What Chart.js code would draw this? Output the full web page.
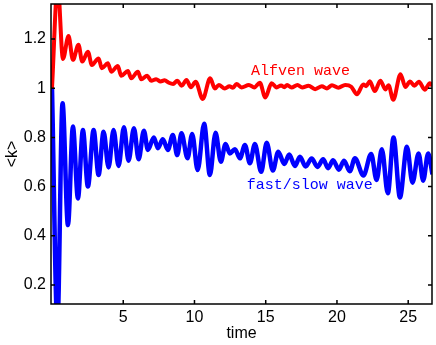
<!DOCTYPE html>
<html>
<head>
<meta charset="utf-8">
<script src="https://cdn.jsdelivr.net/npm/chart.js@4"></script>
<style>
    html, body { margin: 0; padding: 0; background: #fff; }
</style>
</head>
<body>
<canvas id="grafico" width="436" height="345"></canvas>
<script>
// onda de Alfven (vermelho)
const alfvenT = [0, 0.4, 0.77, 1.16, 1.47, 1.86, 2.12, 2.52, 2.8, 3.27, 3.5, 3.92, 4.16, 4.62, 4.86, 5.33, 5.56, 6.03, 6.26, 6.68,
    6.96, 7.31, 7.62, 7.9, 8.2, 8.5, 8.79, 9.1, 9.44, 9.75, 10.08, 10.58, 11.1, 11.43, 11.71, 12.13, 12.45, 12.7, 12.95, 13.3,
    13.82, 14.2, 14.59, 14.97, 15.41, 15.76, 16.08, 16.3, 16.5, 16.81, 17.23, 17.56, 18.0, 18.47, 18.94, 19.3, 19.65, 20.1, 20.58, 21.0,
    21.4, 21.85, 22.05, 22.3, 22.65, 23.05, 23.4, 23.62, 23.95, 24.46, 24.8, 25.13, 25.43, 25.75, 26.16, 26.52, 26.7];
const alfvenK = [1.0, 1.42, 1.119, 1.212, 1.115, 1.176, 1.108, 1.148, 1.094, 1.121, 1.081, 1.101, 1.067, 1.09, 1.05, 1.07, 1.04, 1.067, 1.036, 1.05,
    1.03, 1.036, 1.027, 1.032, 1.022, 1.017, 1.03, 1.01, 1.033, 1.004, 1.026, 0.956, 1.04, 0.999, 1.013, 0.999, 1.008, 1.002, 1.017, 1.003,
    1.013, 1.003, 1.022, 0.962, 1.02, 1.003, 1.011, 1.004, 1.013, 1.003, 1.013, 1.003, 1.01, 0.996, 1.008, 0.999, 1.012, 1.002, 1.013, 1.006,
    0.975, 1.015, 1.008, 1.028, 0.988, 1.03, 0.995, 1.012, 0.953, 1.057, 1.005, 1.027, 1.01, 1.026, 0.994, 1.02, 1.01];

// onda rapida/lenta (azul)
const rapidaT = [0, 0.38, 0.74, 1.12, 1.47, 1.82, 2.17, 2.52, 2.92, 3.27, 3.62, 3.97, 4.32, 4.67, 5.05, 5.37, 5.75, 6.08, 6.45, 6.73,
    7.15, 7.43, 7.78, 8.13, 8.48, 8.79, 9.09, 9.51, 9.84, 10.22, 10.68, 11.08, 11.48, 11.85, 12.18, 12.48, 12.84, 13.19, 13.54, 13.89,
    14.24, 14.68, 15.07, 15.5, 15.88, 16.3, 16.65, 17.05, 17.4, 17.8, 18.22, 18.64, 19.03, 19.38, 19.73, 20.13, 20.5, 20.9, 21.26, 21.86,
    22.4, 22.78, 23.15, 23.57, 23.97, 24.42, 24.91, 25.3, 25.73, 26.05, 26.4, 26.7];
const rapidaK = [1.0, 0.04, 0.939, 0.444, 0.844, 0.552, 0.83, 0.6, 0.83, 0.647, 0.823, 0.678, 0.83, 0.684, 0.841, 0.705, 0.837, 0.711, 0.827, 0.749,
    0.8, 0.756, 0.792, 0.749, 0.81, 0.728, 0.817, 0.715, 0.814, 0.667, 0.855, 0.647, 0.819, 0.701, 0.773, 0.735, 0.752, 0.715, 0.769, 0.695,
    0.773, 0.66, 0.778, 0.665, 0.742, 0.692, 0.73, 0.684, 0.721, 0.682, 0.714, 0.68, 0.711, 0.675, 0.707, 0.669, 0.705, 0.662, 0.715, 0.645,
    0.733, 0.627, 0.752, 0.573, 0.8, 0.556, 0.762, 0.616, 0.735, 0.624, 0.735, 0.65];

const ticksX = [5, 10, 15, 20, 25];
const ticksY = [0.2, 0.4, 0.6, 0.8, 1, 1.2];

// onde ficam os textos (coordenadas do grafico)
const rotuloAlfven = { texto: 'Alfven wave', t: 13.96, k: 1.07 };
const rotuloRapida = { texto: 'fast/slow wave', t: 13.66, k: 0.607 };

const FONTE = '"Liberation Sans", Arial, sans-serif';

function montarPontos(xs, ys) {
    return xs.map((v, i) => ({ x: v, y: ys[i] }));
}

const moldura = {
    id: 'moldura',
    afterDraw(chart) {
        const { ctx, chartArea: a, scales: { x, y } } = chart;
        ctx.save();
        ctx.strokeStyle = '#000';
        ctx.lineWidth = 1.5;
        ctx.strokeRect(a.left, a.top, a.right - a.left, a.bottom - a.top);

        ctx.beginPath();
        ticksX.forEach(v => {
            const px = x.getPixelForValue(v);
            ctx.moveTo(px, a.bottom); ctx.lineTo(px, a.bottom - 4);
            ctx.moveTo(px, a.top); ctx.lineTo(px, a.top + 4);
        });
        ticksY.forEach(v => {
            const py = y.getPixelForValue(v);
            ctx.moveTo(a.left, py); ctx.lineTo(a.left + 4, py);
            ctx.moveTo(a.right, py); ctx.lineTo(a.right - 4, py);
        });
        ctx.stroke();

        ctx.font = '15px "Liberation Mono", monospace';
        ctx.textBaseline = 'middle';
        ctx.textAlign = 'left';
        ctx.fillStyle = '#ff0000';
        ctx.fillText(rotuloAlfven.texto, x.getPixelForValue(rotuloAlfven.t), y.getPixelForValue(rotuloAlfven.k));
        ctx.fillStyle = '#0000ff';
        ctx.fillText(rotuloRapida.texto, x.getPixelForValue(rotuloRapida.t), y.getPixelForValue(rotuloRapida.k));
        ctx.restore();
    }
};

new Chart(document.getElementById('grafico'), {
    type: 'line',
    data: {
        datasets: [{
            label: 'Alfven wave',
            data: montarPontos(alfvenT, alfvenK),
            borderColor: '#ff0000',
            borderWidth: 4,
            pointRadius: 0,
            cubicInterpolationMode: 'monotone',
            fill: false,
            clip: 0
        }, {
            label: 'fast/slow wave',
            data: montarPontos(rapidaT, rapidaK),
            borderColor: '#0000ff',
            borderWidth: 4.5,
            pointRadius: 0,
            cubicInterpolationMode: 'monotone',
            fill: false,
            clip: 0
        }]
    },
    options: {
        responsive: false,
        animation: false,
        devicePixelRatio: 1,
        layout: { padding: { top: 4, right: 4, left: 0, bottom: 0 } },
        plugins: {
            legend: { display: false },
            tooltip: { enabled: false }
        },
        scales: {
            x: {
                type: 'linear',
                min: -0.07,
                max: 26.67,
                afterBuildTicks: (s) => { s.ticks = ticksX.map(v => ({ value: v })); },
                afterFit: (s) => { s.height = 41; s.paddingLeft = 0; s.paddingRight = 0; },
                grid: { display: false, drawTicks: false },
                border: { display: false },
                ticks: { color: '#000', font: { family: FONTE, size: 16 }, padding: 4, maxRotation: 0, autoSkip: false },
                title: { display: true, text: 'time', color: '#000', font: { family: FONTE, size: 16 }, padding: { top: 0, bottom: 2 } }
            },
            y: {
                type: 'linear',
                min: 0.123,
                max: 1.342,
                afterBuildTicks: (s) => { s.ticks = ticksY.map(v => ({ value: v })); },
                afterFit: (s) => { s.width = 51; s.paddingTop = 0; s.paddingBottom = 0; },
                grid: { display: false, drawTicks: false },
                border: { display: false },
                ticks: {
                    color: '#000',
                    font: { family: FONTE, size: 16 },
                    padding: 5,
                    autoSkip: false,
                    callback: (value) => String(+value.toFixed(1))
                },
                title: { display: true, text: '<k>', color: '#000', font: { family: FONTE, size: 16 }, padding: { top: 3, bottom: 0 } }
            }
        }
    },
    plugins: [moldura]
});
</script>
</body>
</html>
